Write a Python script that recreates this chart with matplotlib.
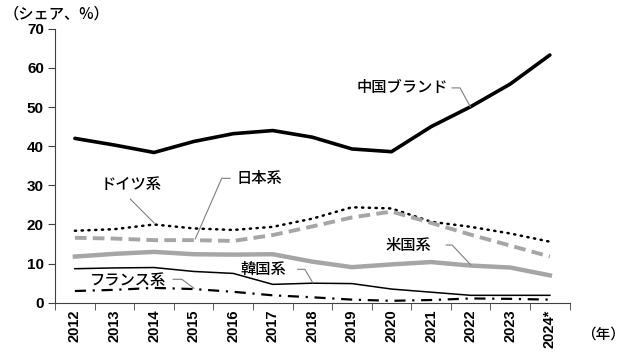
import matplotlib
matplotlib.use("Agg")
import matplotlib.pyplot as plt
import numpy as np

plt.rcParams['font.family'] = ['Noto Sans CJK JP', 'DejaVu Sans']

# data (share, %)
years = ['2012', '2013', '2014', '2015', '2016', '2017', '2018',
         '2019', '2020', '2021', '2022', '2023', '2024*']
china = [42.0, 40.3, 38.4, 41.2, 43.2, 44.0, 42.3, 39.3, 38.6, 45.0, 50.1, 55.9, 63.3]
germany = [18.4, 18.8, 20.0, 19.0, 18.6, 19.4, 21.5, 24.4, 24.1, 20.7, 19.4, 17.7, 15.6]
japan = [16.6, 16.4, 16.0, 16.0, 15.8, 17.3, 19.5, 21.8, 23.3, 20.4, 17.4, 14.6, 11.8]
usa = [11.8, 12.5, 13.0, 12.4, 12.3, 12.4, 10.5, 9.1, 9.8, 10.4, 9.5, 9.0, 7.0]
korea = [8.7, 8.9, 9.0, 8.0, 7.5, 4.7, 5.0, 4.9, 3.5, 2.7, 1.9, 1.9, 1.9]
france = [3.0, 3.3, 3.8, 3.5, 2.8, 1.9, 1.4, 0.8, 0.5, 0.7, 1.1, 1.0, 0.8]

gray = '#a6a6a6'
x = np.arange(len(years))

fig = plt.figure(figsize=(6.26, 3.6), dpi=100)
ax = fig.add_axes([0.088, 0.159, 0.822, 0.761])

ax.plot(x, china, color='black', lw=2.6, solid_capstyle='round')
ax.plot(x, germany, color='black', lw=1.8, linestyle=(0, (0.5, 2.2)), dash_capstyle='round')
ax.plot(x, japan, color=gray, lw=2.8, linestyle=(0, (3, 1.6)))
ax.plot(x, usa, color=gray, lw=3.2)
ax.plot(x, korea, color='black', lw=1.1)
ax.plot(x, france, color='black', lw=1.6, linestyle=(0, (5, 3, 1, 3)))

ax.set_xlim(-0.5, len(years) - 0.5)
ax.set_ylim(0, 70)
ax.set_yticks(np.arange(0, 71, 10))
ax.set_xticks(x)
ax.set_xticklabels(years, rotation=90, fontfamily='Liberation Sans',
                   fontsize=10.5, fontweight='bold')
ax.set_xticks(np.arange(-0.5, len(years)), minor=True)
ax.tick_params(axis='x', which='major', length=0, pad=5)
ax.tick_params(axis='x', which='minor', length=5, direction='out', color='#404040')
ax.tick_params(axis='y', length=5, direction='out', color='#404040', pad=3)
for lb in ax.get_yticklabels():
    lb.set_fontfamily('Liberation Sans')
    lb.set_fontsize(11)
    lb.set_fontweight('bold')
for s in ['top', 'right']:
    ax.spines[s].set_visible(False)
for s in ['left', 'bottom']:
    ax.spines[s].set_color('#404040')

# labels with leader lines (in data coordinates)
def label(txt, tx, ty, pts):
    ax.text(tx, ty, txt, fontsize=11, fontweight='medium', ha='left', va='center')
    xs, ys = zip(*pts)
    ax.plot(xs, ys, color='#7f7f7f', lw=0.8, clip_on=False)

label('中国ブランド', 7.12, 54.9, [(9.53, 54.9), (9.73, 54.9), (9.99, 50.1)])
label('ドイツ系', 0.64, 30.1, [(1.40, 26.5), (2.0, 20.4)])
label('日本系', 4.09, 31.8, [(3.92, 31.8), (3.71, 31.8), (3.04, 16.3)])
label('米国系', 7.85, 14.75, [(9.38, 14.75), (9.53, 14.75), (10.0, 9.7)])
label('韓国系', 4.19, 8.4, [(5.63, 8.54), (5.81, 8.54), (6.01, 5.1)])
label('フランス系', 0.39, 5.8, [(2.48, 6.0), (2.70, 6.0), (3.01, 3.7)])

fig.text(0.005, 0.962, '（シェア、%）', fontsize=11, fontweight='medium', ha='left', va='center')
fig.text(0.998, 0.07, '（年）', fontsize=10.5, fontweight='medium', ha='right', va='center')

fig.savefig('out.png', dpi=100)
